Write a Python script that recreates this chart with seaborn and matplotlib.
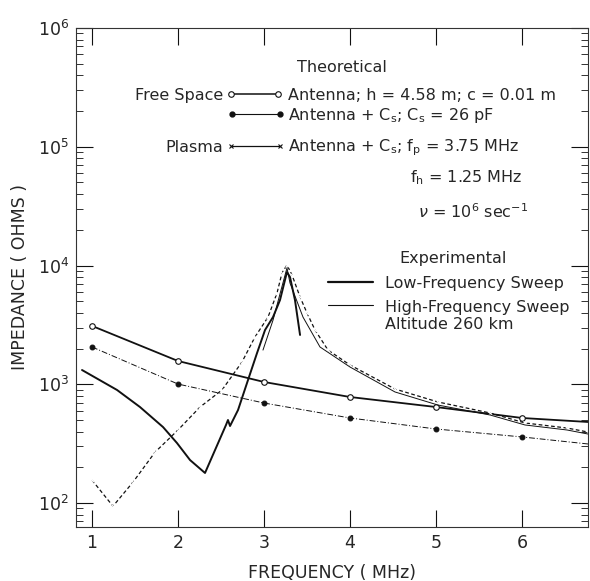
import numpy as np
import pandas as pd
import matplotlib
matplotlib.use('Agg')
import matplotlib.pyplot as plt
import seaborn as sns
from matplotlib.lines import Line2D
from matplotlib.ticker import LogLocator, FixedLocator

# ------------------------------------------
# data (MHz, ohms)
# ------------------------------------------
free_f = [1.0, 2.0, 3.0, 4.0, 5.0, 6.0, 6.77]
free_z = [3100, 1570, 1045, 781, 643, 520, 481]

cs_f = [1.0, 2.0, 3.0, 4.0, 5.0, 6.0, 6.77]
cs_z = [2060, 1004, 695, 520, 420, 360, 314]

plasma_f = [1.0, 1.244, 1.477, 1.733, 2.0, 2.256, 2.512, 2.744, 2.895, 3.047,
            3.151, 3.209, 3.267, 3.326, 3.419, 3.5, 3.593, 3.744, 4.0, 4.523,
            5.023, 5.628, 6.035, 6.523, 6.767]
plasma_z = [156, 94, 150, 268, 412, 643, 895, 1540, 2500, 3680,
            5860, 8650, 10100, 8310, 5430, 3980, 2864, 1940, 1453, 912,
            709, 573, 472, 428, 396]

low_f = [0.884, 1.291, 1.558, 1.826, 1.988, 2.14, 2.314, 2.558, 2.581, 2.605,
         2.698, 2.814, 2.919, 3.012, 3.105, 3.186, 3.267, 3.302, 3.36, 3.419]
low_z = [1318, 895, 643, 436, 320, 230, 179, 454, 500, 445,
         607, 1086, 1833, 2864, 3684, 5120, 8810, 8000, 5120, 2600]

high_f = [2.988, 3.105, 3.198, 3.267, 3.302, 3.453, 3.651, 4.0, 4.523, 5.023,
          5.628, 6.035, 6.523, 6.767]
high_z = [1940, 3470, 6220, 9530, 7130, 3680, 2060, 1397, 861, 668,
          551, 454, 412, 381]

x_ticks = [1, 2, 3, 4, 5, 6, 7]

# ------------------------------------------
# style
# ------------------------------------------
sns.set_style('ticks')
plt.rcParams['font.family'] = ['DejaVu Sans']
plt.rcParams['mathtext.fontset'] = 'dejavusans'
INK = '#111111'

fig = plt.figure(figsize=(5.9, 5.81), dpi=100)
ax = fig.add_axes([76 / 590, 54 / 581, 512 / 590, 499 / 581])

# ------------------------------------------
# curves
# ------------------------------------------
sns.lineplot(x=free_f, y=free_z, ax=ax, color=INK, lw=1.3, estimator=None,
             marker='o', markersize=4, markerfacecolor='white',
             markeredgecolor=INK, markeredgewidth=0.8,
             markevery=list(range(len(free_f) - 1)))
sns.lineplot(x=cs_f, y=cs_z, ax=ax, color=INK, lw=0.7, estimator=None,
             linestyle=(0, (6, 2, 1, 2)), marker='o', markersize=3.5,
             markerfacecolor=INK, markeredgecolor=INK,
             markevery=list(range(len(cs_f) - 1)))
sns.lineplot(x=plasma_f, y=plasma_z, ax=ax, color=INK, lw=0.9, estimator=None,
             linestyle=(0, (3, 2)), marker='x', markersize=3.5,
             markeredgewidth=0.8)
sns.lineplot(x=low_f, y=low_z, ax=ax, color=INK, lw=1.4, estimator=None)
sns.lineplot(x=high_f, y=high_z, ax=ax, color=INK, lw=0.7, estimator=None)

# ------------------------------------------
# axes
# ------------------------------------------
ax.set_yscale('log')
ax.set_xlim(0.814, 6.767)
ax.set_ylim(62.8, 1e6)
ax.xaxis.set_major_locator(FixedLocator(x_ticks))
ax.yaxis.set_major_locator(LogLocator(base=10, numticks=10))
ax.yaxis.set_minor_locator(LogLocator(base=10, subs=np.arange(2, 10), numticks=20))
ax.tick_params(axis='both', which='major', direction='in', length=12, width=0.8,
               top=True, right=True, labelsize=12.5, pad=5, color=INK)
ax.tick_params(axis='y', which='minor', direction='in', length=5, width=0.6,
               right=True, color=INK)
ax.tick_params(axis='x', which='minor', bottom=False, top=False)
for s in ax.spines.values():
    s.set_linewidth(0.8)
    s.set_color('#333333')

ax.set_xlabel('FREQUENCY ( MHz)', fontsize=12.5, labelpad=9)
ax.set_ylabel('IMPEDANCE ( OHMS )', fontsize=12.5, labelpad=6)

# ------------------------------------------
# legend / annotation block
# ------------------------------------------
T = ax.transAxes
fs = 11.5


def key(x0, x1, y, **kw):
    ax.add_line(Line2D([x0, x1], [y, y], transform=T, color=INK, **kw))


ax.text(0.5195, 0.912, 'Theoretical', transform=T, ha='center', va='baseline', fontsize=fs)

ax.text(0.287, 0.856, 'Free Space', transform=T, ha='right', va='baseline', fontsize=fs)
key(0.302, 0.395, 0.868, lw=1.1, marker='o', markersize=4,
    markerfacecolor='white', markeredgewidth=0.8)
ax.text(0.414, 0.856, 'Antenna; h = 4.58 m; c = 0.01 m', transform=T,
        ha='left', va='baseline', fontsize=fs)

key(0.305, 0.398, 0.828, lw=0.8, marker='o', markersize=3.5)
ax.text(0.414, 0.816, r'Antenna + C$_\mathrm{s}$; C$_\mathrm{s}$ = 26 pF', transform=T,
        ha='left', va='baseline', fontsize=fs)

ax.text(0.287, 0.752, 'Plasma', transform=T, ha='right', va='baseline', fontsize=fs)
key(0.302, 0.398, 0.764, lw=0.9, marker='x', markersize=3.5, markeredgewidth=0.8)
ax.text(0.414, 0.752, r'Antenna + C$_\mathrm{s}$; f$_\mathrm{p}$ = 3.75 MHz', transform=T,
        ha='left', va='baseline', fontsize=fs)
ax.text(0.652, 0.691, r'f$_\mathrm{h}$ = 1.25 MHz', transform=T,
        ha='left', va='baseline', fontsize=fs)
ax.text(0.668, 0.619, r'$\nu$ = 10$^{6}$ sec$^{-1}$', transform=T,
        ha='left', va='baseline', fontsize=fs)

ax.text(0.736, 0.529, 'Experimental', transform=T, ha='center', va='baseline', fontsize=fs)
key(0.492, 0.580, 0.491, lw=1.6)
ax.text(0.604, 0.479, 'Low-Frequency Sweep', transform=T, ha='left', va='baseline', fontsize=fs)
key(0.492, 0.580, 0.445, lw=0.8)
ax.text(0.604, 0.431, 'High-Frequency Sweep', transform=T, ha='left', va='baseline', fontsize=fs)
ax.text(0.604, 0.397, 'Altitude 260 km', transform=T, ha='left', va='baseline', fontsize=fs)

fig.savefig('out.png', dpi=100)
